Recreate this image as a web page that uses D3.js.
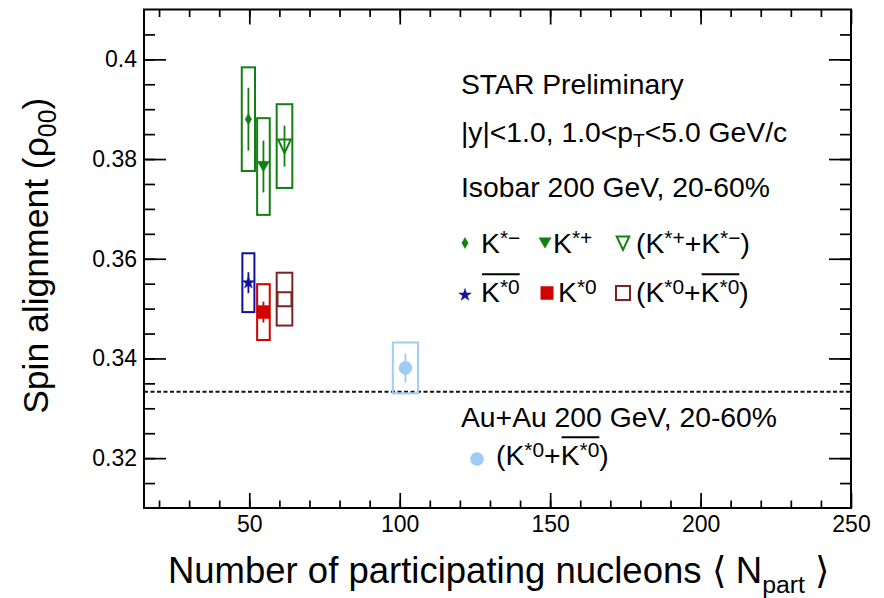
<!DOCTYPE html>
<html>
<head>
<meta charset="utf-8">
<script src="https://cdn.jsdelivr.net/npm/d3@7"></script>
<style>
  body { margin: 0; background: #fff; }
  text { font-family: "Liberation Sans", Arial, Helvetica, sans-serif; fill: #000; }
</style>
</head>
<body>
<svg id="chart" width="884" height="598"></svg>
<script>
// values
const seriesNames = ["Kminus", "Kplus", "Kcharged", "K0bar", "K0", "K0sum", "AuAu"]
const npart      = [49.7, 54.7, 61.7, 49.7, 54.7, 61.7, 101.9]
const npartErr   = [2.2, 2.1, 2.6, 2.0, 2.1, 2.6, 4.2]
const rho00      = [0.3880, 0.3785, 0.3826, 0.3552, 0.3493, 0.3519, 0.3381]
const statErr    = [0.0063, 0.0052, 0.0041, 0.0021, 0.0021, 0.0012, 0.0029]
const sysErr     = [0.0104, 0.0097, 0.0084, 0.0059, 0.0056, 0.0053, 0.0051]
const rhoNoAlign = 1 / 3

const xDomain = [15, 250]
const yDomain = [0.31, 0.41]
const xMajorTicks = [50, 100, 150, 200, 250]
const xTickLabels = ["50", "100", "150", "200", "250"]
const yMajorTicks = [0.32, 0.34, 0.36, 0.38, 0.40]
const yTickLabels = ["0.32", "0.34", "0.36", "0.38", "0.4"]
const xMinorTicks = d3.range(20, 250, 10)
const yMinorTicks = d3.range(0.315, 0.41, 0.005)

// marker look per series
const look = {
  Kminus:   { shape: "diamond",  color: "#137f13", fill: true },
  Kplus:    { shape: "triDown",  color: "#137f13", fill: true },
  Kcharged: { shape: "triDownO", color: "#137f13", fill: false },
  K0bar:    { shape: "star",     color: "#10109c", fill: true },
  K0:       { shape: "square",   color: "#d30000", fill: true },
  K0sum:    { shape: "squareO",  color: "#7c2222", fill: false },
  AuAu:     { shape: "circle",   color: "#9ecbf8", fill: true },
}

function markerPath(shape) {
  const p = d3.path()
  if (shape === "diamond") {
    p.moveTo(0, -5.5); p.lineTo(3.2, 0); p.lineTo(0, 5.5); p.lineTo(-3.2, 0); p.closePath()
  } else if (shape === "triDown") {
    p.moveTo(-6, -5.2); p.lineTo(6, -5.2); p.lineTo(0, 5.2); p.closePath()
  } else if (shape === "triDownO") {
    p.moveTo(-6.3, -6.5); p.lineTo(6.3, -6.5); p.lineTo(0, 7); p.closePath()
  } else if (shape === "square") {
    p.rect(-6.2, -6.5, 12.4, 13)
  } else if (shape === "squareO") {
    p.rect(-7, -7, 14, 14)
  } else if (shape === "circle") {
    return d3.symbol().type(d3.symbolCircle).size(135)()
  } else if (shape === "star") {
    return d3.symbol().type(d3.symbolStar).size(48)()
  }
  return p.toString()
}
const markerHalf = { diamond: 5.5, triDown: 5.2, triDownO: 7, square: 6.5, squareO: 7, circle: 6.5, star: 5 }

const X0 = 144, X1 = 851, Y0 = 9.5, Y1 = 508

const svg = d3.select("#chart")
svg.append("rect").attr("width", 884).attr("height", 598).attr("fill", "#fff")

const x = d3.scaleLinear().domain(xDomain).range([X0, X1])
const y = d3.scaleLinear().domain(yDomain).range([Y1, Y0])

// axes, ticks pointing inward on all four sides
function styleAxis(g) {
  g.select(".domain").remove()
  g.selectAll(".tick line").attr("stroke", "#000").attr("stroke-width", 1.7)
  g.selectAll("text").attr("font-size", "23px").attr("font-family", "Liberation Sans, Arial, sans-serif").attr("fill", "#000")
}

svg.append("g").attr("transform", `translate(0,${Y1})`)
  .call(d3.axisBottom(x).tickValues(xMinorTicks).tickSize(-7.5).tickFormat(""))
  .call(styleAxis)
svg.append("g").attr("transform", `translate(0,${Y1})`)
  .call(d3.axisBottom(x).tickValues(xMajorTicks).tickSize(-15).tickPadding(8)
    .tickFormat((d, i) => xTickLabels[i]))
  .call(styleAxis)
svg.append("g").attr("transform", `translate(0,${Y0})`)
  .call(d3.axisTop(x).tickValues(xMinorTicks).tickSize(-7.5).tickFormat(""))
  .call(styleAxis)
svg.append("g").attr("transform", `translate(0,${Y0})`)
  .call(d3.axisTop(x).tickValues(xMajorTicks).tickSize(-15).tickFormat(""))
  .call(styleAxis)

svg.append("g").attr("transform", `translate(${X0},0)`)
  .call(d3.axisLeft(y).tickValues(yMinorTicks).tickSize(-11).tickFormat(""))
  .call(styleAxis)
svg.append("g").attr("transform", `translate(${X0},0)`)
  .call(d3.axisLeft(y).tickValues(yMajorTicks).tickSize(-22).tickPadding(7)
    .tickFormat((d, i) => yTickLabels[i]))
  .call(styleAxis)
svg.append("g").attr("transform", `translate(${X1},0)`)
  .call(d3.axisRight(y).tickValues(yMinorTicks).tickSize(-11).tickFormat(""))
  .call(styleAxis)
svg.append("g").attr("transform", `translate(${X1},0)`)
  .call(d3.axisRight(y).tickValues(yMajorTicks).tickSize(-22).tickFormat(""))
  .call(styleAxis)

svg.append("rect")
  .attr("x", X0).attr("y", Y0).attr("width", X1 - X0).attr("height", Y1 - Y0)
  .attr("fill", "none").attr("stroke", "#000").attr("stroke-width", 2)

// rho00 = 1/3 reference
svg.append("line")
  .attr("x1", x(xDomain[0])).attr("x2", x(xDomain[1]))
  .attr("y1", y(rhoNoAlign)).attr("y2", y(rhoNoAlign))
  .attr("stroke", "#111").attr("stroke-width", 2).attr("stroke-dasharray", "4,2.5")

// points
const pts = seriesNames.map((name, i) => ({
  name, n: npart[i], dn: npartErr[i], v: rho00[i], st: statErr[i], sy: sysErr[i]
}))

const plot = svg.append("g")
plot.selectAll("rect.sys").data(pts).join("rect").attr("class", "sys")
  .attr("x", d => x(d.n - d.dn)).attr("width", d => x(d.n + d.dn) - x(d.n - d.dn))
  .attr("y", d => y(d.v + d.sy)).attr("height", d => y(d.v - d.sy) - y(d.v + d.sy))
  .attr("fill", "none").attr("stroke", d => look[d.name].color).attr("stroke-width", 2)

plot.selectAll("line.stat").data(pts.filter(d => y(d.v - d.st) - y(d.v) > markerHalf[look[d.name].shape]))
  .join("line").attr("class", "stat")
  .attr("x1", d => x(d.n)).attr("x2", d => x(d.n))
  .attr("y1", d => y(d.v + d.st)).attr("y2", d => y(d.v - d.st))
  .attr("stroke", d => look[d.name].color).attr("stroke-width", 1.8)

plot.selectAll("path.mk").data(pts).join("path").attr("class", "mk")
  .attr("transform", d => `translate(${x(d.n)},${y(d.v)})`)
  .attr("d", d => markerPath(look[d.name].shape))
  .attr("fill", d => look[d.name].fill ? look[d.name].color : "none")
  .attr("stroke", d => look[d.name].color)
  .attr("stroke-width", d => look[d.name].fill ? 0.5 : 2)

// text block
const fs = 28.3
const supSize = "0.74em"
function addText(xp, yp, parts) {
  const t = svg.append("text").attr("x", xp).attr("y", yp).attr("font-size", fs + "px")
  parts.forEach(p => {
    const s = t.append("tspan").text(p.t)
    if (p.sup) s.attr("font-size", supSize).attr("baseline-shift", "40%")
    if (p.sub) s.attr("font-size", "0.68em").attr("baseline-shift", "-28%")
  })
  return t
}

// (K*0 + K*0bar) style labels, overline drawn over the anti-particle part
function addKsum(xp, yp, kbarOnly) {
  const t = svg.append("text").attr("x", xp).attr("y", yp).attr("font-size", fs + "px")
  if (!kbarOnly) {
    t.append("tspan").text("(K")
    t.append("tspan").text("*0").attr("font-size", supSize).attr("baseline-shift", "40%")
    t.append("tspan").text("+")
  }
  const k = t.append("tspan")
  k.append("tspan").text("K")
  k.append("tspan").text("*0").attr("font-size", supSize).attr("baseline-shift", "40%")
  if (!kbarOnly) t.append("tspan").text(")")
  const b = k.node().getBBox()
  svg.append("line").attr("x1", b.x + 1).attr("x2", b.x + b.width)
    .attr("y1", yp - fs * 0.98).attr("y2", yp - fs * 0.98)
    .attr("stroke", "#000").attr("stroke-width", 1.8)
}

function legendMarker(name, xp, yp) {
  const l = look[name]
  svg.append("path").attr("transform", `translate(${xp},${yp})`)
    .attr("d", markerPath(l.shape))
    .attr("fill", l.fill ? l.color : "none").attr("stroke", l.color)
    .attr("stroke-width", l.fill ? 0.5 : 2)
}

addText(461, 94, [{ t: "STAR Preliminary" }])
addText(461, 142, [{ t: "|y|<1.0, 1.0<p" }, { t: "T", sub: true }, { t: "<5.0 GeV/c" }])
addText(461, 197, [{ t: "Isobar 200 GeV, 20-60%" }])

legendMarker("Kminus", 465, 243)
addText(481, 253, [{ t: "K" }, { t: "*\u2212", sup: true }])
legendMarker("Kplus", 545, 243)
addText(553, 253, [{ t: "K" }, { t: "*+", sup: true }])
legendMarker("Kcharged", 623, 243)
addText(636, 253, [{ t: "(K" }, { t: "*+", sup: true }, { t: "+K" }, { t: "*\u2212", sup: true }, { t: ")" }])

legendMarker("K0bar", 465, 295)
addKsum(481, 302, true)
legendMarker("K0", 547, 293)
addText(558, 302, [{ t: "K" }, { t: "*0", sup: true }])
legendMarker("K0sum", 623, 293)
addKsum(636, 302, false)

addText(461, 427, [{ t: "Au+Au 200 GeV, 20-60%" }])
legendMarker("AuAu", 477, 459)
addKsum(496, 465, false)

// axis titles
svg.append("text")
  .attr("x", (X0 + X1) / 2 + 1).attr("y", 583).attr("text-anchor", "middle")
  .attr("font-size", "36.5px")
  .call(t => {
    t.append("tspan").text("Number of participating nucleons \u27E8 N")
    t.append("tspan").text("part").attr("font-size", "0.68em").attr("baseline-shift", "-40%")
    t.append("tspan").text(" \u27E9")
  })

svg.append("text")
  .attr("transform", `translate(48,${(Y0 + Y1) / 2 - 3}) rotate(-90)`)
  .attr("text-anchor", "middle")
  .attr("font-size", "35.5px")
  .call(t => {
    t.append("tspan").text("Spin alignment (\u03C1")
    t.append("tspan").text("00").attr("font-size", "0.7em").attr("baseline-shift", "-30%")
    t.append("tspan").text(")")
  })
</script>
</body>
</html>
